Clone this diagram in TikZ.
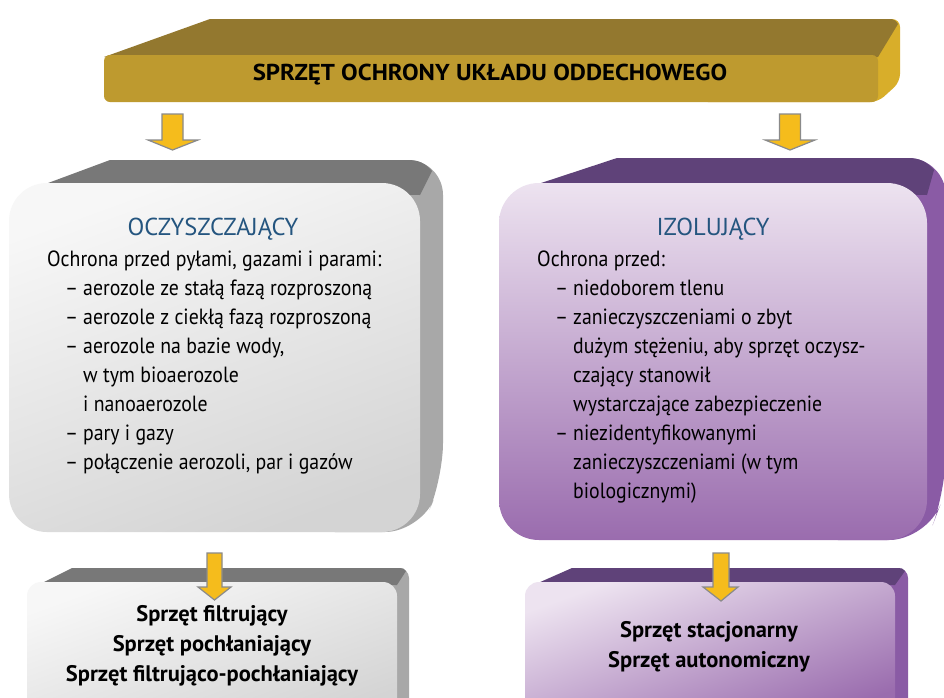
\documentclass[tikz,border=0pt]{standalone}
\usepackage{fontspec}
\setmainfont{PT Sans}
\newfontfamily\bodyfont[FakeStretch=0.9]{PT Sans}
\newfontfamily\bannerfont[FakeStretch=1.08]{PT Sans}
\definecolor{goldtop}{HTML}{93782F}
\definecolor{goldfront}{HTML}{BE9A2F}
\definecolor{goldside}{HTML}{D8AE2A}
\definecolor{graytop}{HTML}{787878}
\definecolor{grayside}{HTML}{A8A8A8}
\definecolor{grayfrontA}{HTML}{F7F7F7}
\definecolor{grayfrontB}{HTML}{D4D4D4}
\definecolor{purptop}{HTML}{5F4279}
\definecolor{purpside}{HTML}{8A5BA5}
\definecolor{purpfrontA}{HTML}{EDE3F0}
\definecolor{purpfrontB}{HTML}{9A6CAE}
\definecolor{titleblue}{HTML}{24557F}
\definecolor{arrowyellow}{HTML}{F5BC1C}
\definecolor{arrowgray}{HTML}{8A8A8A}
\tikzset{
  blockarrow/.style={fill=arrowyellow, draw=arrowgray, line width=1.2pt, line join=miter},
  bodytext/.style={anchor=base west, inner sep=0pt, font=\bodyfont\fontsize{22}{29}\selectfont},
  headtext/.style={anchor=base, inner sep=0pt, text=titleblue, font=\fontsize{24.5}{28}\selectfont},
  boldtext/.style={anchor=base, inner sep=0pt, font=\bfseries\fontsize{22.5}{30}\selectfont},
}
\newcommand{\itm}{\hspace*{18pt}\makebox[18pt][l]{–}}
\newcommand{\cnt}{\hspace*{36pt}}
\begin{document}
\begin{tikzpicture}[x=1pt,y=-1pt]
\useasboundingbox (0,0) rectangle (944,697);
\clip (0,0) rectangle (944,697);
\fill[white] (0,0) rectangle (944,697);

% ---------- top banner ----------
\fill[goldside, rounded corners=8pt] (700,19) -- (900,19) -- (900,82) -- (878,102) -- (700,102) -- cycle;
\fill[goldtop] (104,57) -- (210,19) -- (890,19) to[out=0,in=120] (898,24) -- (878,57) -- cycle;
\fill[goldfront, rounded corners=6pt] (104,55) rectangle (878,102);
\node (title) at (490,80) [anchor=base, inner sep=0pt] {\bannerfont\bfseries\fontsize{23}{26}\selectfont SPRZĘT OCHRONY UKŁADU ODDECHOWEGO};

% ---------- arrows from banner ----------
\draw[blockarrow] (162,114) -- (183,114) -- (183,140) -- (198,140) -- (172.5,150) -- (148,140) -- (162,140) -- cycle;
\draw[blockarrow] (779.5,114) -- (800.5,114) -- (800.5,140) -- (815,140) -- (790,150) -- (765,140) -- (779.5,140) -- cycle;

% ---------- left big box ----------
\fill[grayside, rounded corners=35pt] (300,160) -- (443,160) -- (443,478) -- (420,532) -- (300,532) -- cycle;
\fill[graytop] (40,186) -- (110,160) -- (408,160) to[out=0,in=130] (432,171) -- (420,195) -- cycle;
\shade[top color=grayfrontA, bottom color=grayfrontB, shading angle=20, rounded corners=38pt] (9,183) rectangle (420,532);
\node[headtext] (lhead) at (213,235) {OCZYSZCZAJĄCY};
\node[bodytext] (lbody) at (47,266) {\parbox[t]{380pt}{\raggedright
Ochrona przed pyłami, gazami i parami:\\
\itm aerozole ze stałą fazą rozproszoną\\
\itm aerozole z ciekłą fazą rozproszoną\\
\itm aerozole na bazie wody,\\
\cnt w tym bioaerozole\\
\cnt i nanoaerozole\\
\itm pary i gazy\\
\itm połączenie aerozoli, par i gazów}};

% ---------- right big box ----------
\fill[purpside, rounded corners=38pt] (800,158) -- (946,158) -- (946,490) -- (927,540) -- (800,540) -- cycle;
\fill[purptop] (532,186) -- (617,158) -- (908,158) to[out=0,in=130] (934,170) -- (927,195) -- cycle;
\shade[top color=purpfrontA, bottom color=purpfrontB, rounded corners=40pt] (499,183) rectangle (927,540);
\node[headtext] (rhead) at (713,235) {IZOLUJĄCY};
\node[bodytext] (rbody) at (537,266) {\parbox[t]{400pt}{\raggedright
Ochrona przed:\\
\itm niedoborem tlenu\\
\itm zanieczyszczeniami o zbyt\\
\cnt dużym stężeniu, aby sprzęt oczysz-\\
\cnt czający stanowił\\
\cnt wystarczające zabezpieczenie\\
\itm niezidentyfikowanymi\\
\cnt zanieczyszczeniami (w tym\\
\cnt biologicznymi)}};

% ---------- bottom left box ----------
\fill[grayside, rounded corners=10pt] (300,568) -- (409,568) -- (409,720) -- (300,720) -- cycle;
\fill[graytop] (42,583) -- (72,568) -- (400,568) to[out=0,in=120] (406,571) -- (397,585) -- cycle;
\shade[top color=grayfrontA, bottom color=grayfrontB, shading angle=20, rounded corners=14pt] (27,582) rectangle (397,720);
\node[boldtext] (lb1) at (212,621) {Sprzęt filtrujący};
\node[boldtext] (lb2) at (212,651) {Sprzęt pochłaniający};
\node[boldtext] (lb3) at (212,681) {Sprzęt filtrująco-pochłaniający};

% ---------- bottom right box ----------
\fill[purpside, rounded corners=10pt] (800,568) -- (908,568) -- (908,720) -- (800,720) -- cycle;
\fill[purptop] (538,583) -- (572,568) -- (898,568) to[out=0,in=120] (905,571) -- (895,585) -- cycle;
\shade[top color=purpfrontA, bottom color=purpfrontB, shading angle=20, rounded corners=14pt] (525,582) rectangle (895,720);
\node[boldtext] (rb1) at (709,637) {Sprzęt stacjonarny};
\node[boldtext] (rb2) at (709,667) {Sprzęt autonomiczny};

% ---------- lower arrows ----------
\draw[blockarrow] (207,553) -- (222,553) -- (222,587) -- (231,587) -- (214.5,600) -- (198,587) -- (207,587) -- cycle;
\draw[blockarrow] (713,553) -- (729,553) -- (729,587) -- (738,587) -- (721,601) -- (703,587) -- (713,587) -- cycle;
\end{tikzpicture}
\end{document}
